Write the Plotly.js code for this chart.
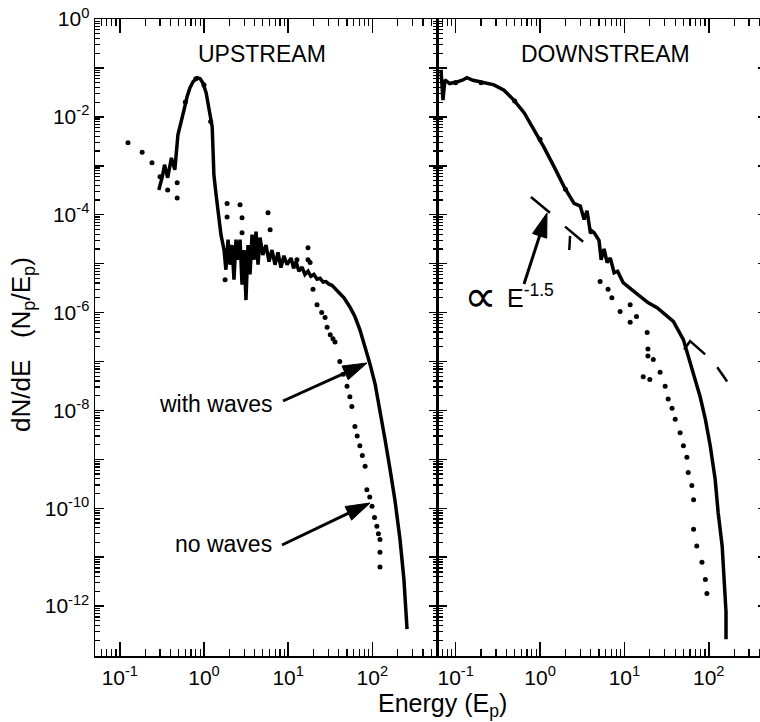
<!DOCTYPE html>
<html>
<head>
<meta charset="utf-8">
<script src="https://cdn.plot.ly/plotly-3.0.1.min.js"></script>
<style>
html,body{margin:0;padding:0;overflow:hidden;background:#fff;}
#chart{width:770px;height:722px;}
</style>
</head>
<body>
<div id="chart"></div>
<script>
// ---------------- DATA ----------------
// Upstream, with waves (solid line)
const upWavesE = [0.29,0.32,0.34,0.37,0.41,0.45,0.49,0.52,0.58,0.63,0.68,0.74,0.83,0.90,0.97,1.06,1.12,1.18,1.25,1.28,1.31,1.39,1.47,1.59,1.73,
  1.82,1.93,2.04,2.15,2.27,2.40,2.53,2.68,2.83,2.99,3.15,3.33,3.52,3.72,3.93,4.15,4.38,4.63,5.0,5.45,5.92,6.42,6.97,7.57,8.2,8.9,9.7,
  10.8,11.6,12.4,13.4,14.6,15.8,17.2,18.6,20.2,22,23.9,26,28.1,30.5,33.1,39,46,54,62,71,81,94,108,123,141,162,185,213,237,258];
const upWavesF = [3.2e-4,6.0e-4,1.05e-3,5.7e-4,1.45e-3,8.3e-4,4.3e-3,6.3e-3,1.4e-2,2.6e-2,3.9e-2,5.2e-2,6.3e-2,6.0e-2,4.9e-2,3.1e-2,1.9e-2,1.1e-2,6.3e-3,2.1e-3,6.6e-4,2.6e-4,1.0e-4,3.9e-5,1.9e-5,
  7.5e-6,3.1e-5,9.5e-6,2.4e-5,4.7e-6,3.1e-5,1.2e-5,3.1e-5,3.7e-6,1.9e-5,1.8e-6,2.4e-5,6.0e-6,3.9e-5,1.2e-5,4.5e-5,9.5e-6,3.4e-5,1.5e-5,2.4e-5,1.1e-5,1.9e-5,9.5e-6,1.7e-5,8.3e-6,1.45e-5,9.5e-6,
  1.3e-5,8.0e-6,1.1e-5,7.0e-6,8.5e-6,6.0e-6,7.0e-6,5.5e-6,6.0e-6,4.8e-6,5.0e-6,4.2e-6,4.3e-6,3.8e-6,3.6e-6,2.7e-6,2.0e-6,1.3e-6,8.3e-7,4.5e-7,2.2e-7,8.7e-8,3.4e-8,1.05e-8,2.6e-9,6.3e-10,1.5e-10,2.3e-11,3.5e-12,3.4e-13];

// Upstream, no waves (dotted)
const upNoWavesE = [0.125,0.184,0.241,0.30,0.37,0.48,0.48,0.6,0.8,1.0,1.2,1.78,1.88,1.88,2.68,2.83,2.83,5.76,6.1,12.7,17.2,17.2,18.2,19.7,22,
  25,27.4,29,31.6,34,36,41,45,50,54,57,62,66,71,76,82,86,93,99,106,113,118,123,123,123];
const upNoWavesF = [2.95e-3,1.9e-3,1.15e-3,6.0e-4,3.2e-4,2.2e-4,4.5e-4,2.0e-2,6.0e-2,4.5e-2,8.0e-3,4.7e-6,1.7e-4,9.0e-5,1.6e-4,8.7e-5,4.3e-5,1.1e-4,4.9e-5,1.2e-5,2.1e-5,1.2e-5,1.05e-5,3.0e-6,1.45e-6,
  1.0e-6,7.9e-7,5.0e-7,3.5e-7,2.9e-7,2.5e-7,1.0e-7,5.5e-8,3.1e-8,1.9e-8,1.2e-8,4.7e-9,3.0e-9,1.9e-9,1.2e-9,7.2e-10,2.4e-10,1.7e-10,1.1e-10,6.5e-11,4.3e-11,3.0e-11,2.3e-11,1.26e-11,6.3e-12];

// Downstream, with waves (solid line)
const dnWavesE = [0.067,0.0707,0.0746,0.085,0.104,0.12,0.136,0.16,0.194,0.24,0.284,0.374,0.49,0.65,0.85,1.11,1.47,1.93,2.53,3.0,3.33,3.6,3.9,4.37,
  5.0,5.3,5.74,6.24,6.8,7.55,8.3,9.66,12,15.4,19,24.4,30,38,50,65,79,91,104,119,129,144,152,160,160];
const dnWavesF = [9.1e-2,2.2e-2,5.7e-2,4.8e-2,5.2e-2,5.6e-2,6.3e-2,5.6e-2,5.2e-2,4.8e-2,4.5e-2,3.5e-2,2.2e-2,1.2e-2,5.4e-3,2.4e-3,9.5e-4,3.7e-4,1.7e-4,1.5e-4,8.0e-5,1.2e-4,5.0e-5,4.3e-5,
  3.0e-5,1.2e-5,2.0e-5,1.05e-5,1.3e-5,6.5e-6,7.0e-6,4.1e-6,3.0e-6,2.1e-6,1.6e-6,1.26e-6,9.5e-7,6.6e-7,2.8e-7,6.0e-8,1.9e-8,6.6e-9,1.9e-9,3.9e-10,8.3e-11,1.7e-11,3.5e-12,7.6e-13,2.1e-13];

// Downstream, no waves (dotted)
const dnNoWavesE = [0.1,0.2,0.5,1.0,2.0,4.0,5.15,6.4,7.1,8.9,11.7,13.9,11.7,18.6,19,19,22,16.7,20,26.5,30.4,33,36.7,40,45.7,50,55,57,63,66,66,72,83,91,95];
const dnNoWavesF = [5.0e-2,5.0e-2,2.1e-2,3.5e-3,3.3e-4,4.5e-5,4.3e-6,3.0e-6,2.0e-6,1.05e-6,1.45e-6,8.3e-7,6.3e-7,3.9e-7,1.8e-7,1.3e-7,1.1e-7,4.9e-8,4.3e-8,6.0e-8,3.1e-8,1.7e-8,1.1e-8,6.6e-9,3.5e-9,1.9e-9,1.1e-9,5.4e-10,2.9e-10,1.5e-10,3.7e-11,1.7e-11,7.9e-12,3.5e-12,1.8e-12];

// Reference power law  ∝ E^-1.5 (short segment)
const powerLawE = [0.78, 1.31];
const powerLawF = [2.3e-4, 1.1e-4];

// Other short strokes in the downstream panel
const strayE = [1.98,3.24,null,2.27,2.22,null,51,60,90.6,null,126,165];
const strayF = [5.7e-5,2.8e-5,null,3.7e-5,1.9e-5,null,1.76e-7,2.6e-7,1.4e-7,null,7.6e-8,3.9e-8];

// Tick labels
const xTickVals = [0.1, 1, 10, 100];
const xTickText = ['10<sup>-1</sup>','10<sup>0</sup>','10<sup>1</sup>','10<sup>2</sup>'];
const yExponents = [0,-1,-2,-3,-4,-5,-6,-7,-8,-9,-10,-11,-12,-13];

// ---------------- LAYOUT HELPERS ----------------
const W = 770, H = 722;
const M = {l:95, r:3, t:19, b:66};
const PW = W - M.l - M.r, PH = H - M.t - M.b;
const px = x => (x - M.l) / PW;
const py = y => (H - M.b - y) / PH;
const split = px(437.7);

const yTickVals = yExponents.map(e => Math.pow(10, e));
const yTickText = yExponents.map(e => (e % 2 === 0) ? '10<sup>' + e + '</sup>' : ' ');
function minorVals(lo, hi) {
  const v = [];
  for (let e = lo; e <= hi; e++) for (let d = 2; d <= 9; d++) v.push(d * Math.pow(10, e));
  return v;
}
const FONT = 'Liberation Sans, Arial, Helvetica, sans-serif';
const tickFont = {family: FONT, size: 21, color: '#000'};

function xAxis(domain, range, anchor) {
  return {
    type: 'log', domain: domain, range: range, anchor: anchor,
    showline: true, linecolor: '#000', linewidth: 1.5, mirror: 'ticks',
    ticks: 'inside', ticklen: 14, tickwidth: 1.5, tickcolor: '#000',
    tickmode: 'array', tickvals: xTickVals, ticktext: xTickText,
    tickfont: tickFont, ticklabelstandoff: 2,
    minor: {tickmode: 'array', tickvals: minorVals(-2, 2), ticks: 'inside', ticklen: 7, tickwidth: 1.2, tickcolor: '#000', showgrid: false},
    showgrid: false, zeroline: false, fixedrange: true
  };
}
function yAxis(anchor, labels) {
  return {
    type: 'log', domain: [0, 1], range: [-13.02, 0], anchor: anchor,
    showline: true, linecolor: '#000', linewidth: 1.5, mirror: 'ticks',
    ticks: 'inside', ticklen: 9, tickwidth: 1.5, tickcolor: '#000',
    tickmode: 'array', tickvals: yTickVals, ticktext: yTickText,
    showticklabels: labels, tickfont: tickFont,
    minor: {tickmode: 'array', tickvals: minorVals(-14, -1), ticks: 'inside', ticklen: 5, tickwidth: 1.2, tickcolor: '#000', showgrid: false},
    showgrid: false, zeroline: false, fixedrange: true
  };
}

// arrows drawn as layout shapes (pixel -> paper)
function arrow(x0, y0, x1, y1) {
  const L = 24, hw = 7.5;
  const dx = x1 - x0, dy = y1 - y0, len = Math.hypot(dx, dy);
  const ux = dx / len, uy = dy / len;
  const bx = x1 - ux * L, by = y1 - uy * L;
  const nx = -uy, ny = ux;
  const p = (x, y) => px(x).toFixed(5) + ',' + py(y).toFixed(5);
  return [
    {type: 'line', xref: 'paper', yref: 'paper', x0: px(x0), y0: py(y0), x1: px(bx + ux * 2), y1: py(by + uy * 2),
     line: {color: '#000', width: 3}},
    {type: 'path', xref: 'paper', yref: 'paper',
     path: 'M' + p(x1, y1) + ' L' + p(bx + nx * hw, by + ny * hw) + ' L' + p(bx - nx * hw, by - ny * hw) + ' Z',
     fillcolor: '#000', line: {color: '#000', width: 1}}
  ];
}

function label(text, x, y, size, extra) {
  return Object.assign({text: text, xref: 'paper', yref: 'paper', x: px(x), y: py(y),
    xanchor: 'center', yanchor: 'middle', showarrow: false,
    font: {family: FONT, size: size, color: '#000'}}, extra || {});
}

// ---------------- TRACES ----------------
const solid = {color: '#000', width: 3.5};
const dots = {color: '#000', size: 5, symbol: 'circle'};
const traces = [
  {x: upWavesE, y: upWavesF, type: 'scatter', mode: 'lines', line: solid, xaxis: 'x', yaxis: 'y', name: 'with waves'},
  {x: upNoWavesE, y: upNoWavesF, type: 'scatter', mode: 'markers', marker: dots, xaxis: 'x', yaxis: 'y', name: 'no waves'},
  {x: dnWavesE, y: dnWavesF, type: 'scatter', mode: 'lines', line: solid, xaxis: 'x2', yaxis: 'y2', name: 'with waves'},
  {x: dnNoWavesE, y: dnNoWavesF, type: 'scatter', mode: 'markers', marker: dots, xaxis: 'x2', yaxis: 'y2', name: 'no waves'},
  {x: powerLawE, y: powerLawF, type: 'scatter', mode: 'lines', line: {color: '#000', width: 2.5}, xaxis: 'x2', yaxis: 'y2', name: 'E^-1.5'},
  {x: strayE, y: strayF, type: 'scatter', mode: 'lines', line: {color: '#000', width: 2.5}, xaxis: 'x2', yaxis: 'y2', connectgaps: false, name: 'segments'}
];

const layout = {
  width: W, height: H, margin: M, showlegend: false,
  paper_bgcolor: '#fff', plot_bgcolor: '#fff',
  xaxis: xAxis([0, split], [-1.295, 2.776], 'y'),
  yaxis: yAxis('x', true),
  xaxis2: xAxis([split, 1], [-1.213, 2.69], 'y2'),
  yaxis2: yAxis('x2', false),
  annotations: [
    label('UPSTREAM', 262, 54, 23),
    label('DOWNSTREAM', 605, 54, 23),
    label('with waves', 215, 404, 23),
    label('no waves', 223, 544, 23),
    label('\u221D', 480, 296, 46, {font: {family: 'DejaVu Sans, sans-serif', size: 46, color: '#000'}}),
    label('E<sup>-1.5</sup>', 505, 296, 25, {xanchor: 'left'}),
    label('Energy (E<sub>p</sub>)', 442, 705, 25),
    label('dN/dE&nbsp;&nbsp;&nbsp;(N<sub>p</sub>/E<sub>p</sub>)', 22, 345, 26, {textangle: -90})
  ],
  shapes: [].concat(
    arrow(283, 401, 367, 363),
    arrow(282, 545, 370, 503),
    arrow(524, 284, 547, 213)
  )
};

Plotly.newPlot('chart', traces, layout, {displayModeBar: false, staticPlot: true});
</script>
</body>
</html>
